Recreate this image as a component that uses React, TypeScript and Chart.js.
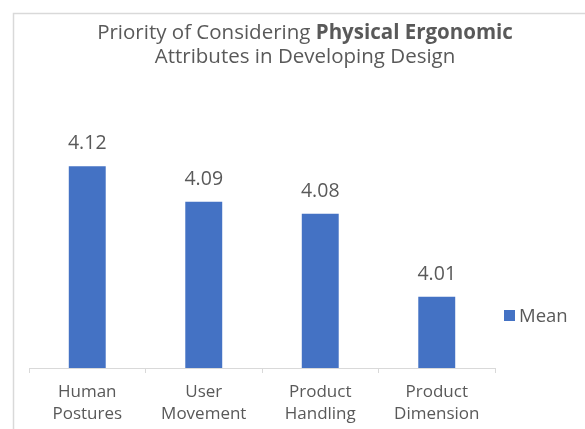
import React, { useEffect, useRef } from 'react';
import { Chart, registerables } from 'chart.js';
Chart.register(...registerables);

const categories = [
  ['Human', 'Postures'],
  ['User', 'Movement'],
  ['Product', 'Handling'],
  ['Product', 'Dimension'],
];
const meanValues = [4.12, 4.09, 4.08, 4.01];
const seriesName = 'Mean';
const titleLine1Normal = 'Priority of Considering ';
const titleLine1Bold = 'Physical Ergonomic';
const titleLine2 = 'Attributes in Developing Design';
const yMin = 3.95;
const yMax = 4.15;

const FONT = '"Open Sans", sans-serif';
const TEXT = '#595959';
const BAR = '#4472C4';
const LINE = '#d9d9d9';

const decor = {
  id: 'decor',
  beforeDraw(chart: any) {
    const ctx = chart.ctx;
    ctx.save();
    ctx.fillStyle = '#ffffff';
    ctx.fillRect(0, 0, chart.width, chart.height);
    ctx.strokeStyle = LINE;
    ctx.lineWidth = 1.5;
    ctx.beginPath();
    ctx.moveTo(13.5, chart.height + 2);
    ctx.lineTo(13.5, 13.5);
    ctx.lineTo(chart.width + 2, 13.5);
    ctx.stroke();

    const cx = 305;
    const tf = 20.5;
    ctx.fillStyle = TEXT;
    ctx.textBaseline = 'alphabetic';
    ctx.font = `${tf}px ${FONT}`;
    const w1 = ctx.measureText(titleLine1Normal).width;
    ctx.font = `bold ${tf}px ${FONT}`;
    const w2 = ctx.measureText(titleLine1Bold).width;
    const x0 = cx - (w1 + w2) / 2;
    ctx.textAlign = 'left';
    ctx.font = `${tf}px ${FONT}`;
    ctx.fillText(titleLine1Normal, x0, 39);
    ctx.font = `bold ${tf}px ${FONT}`;
    ctx.fillText(titleLine1Bold, x0 + w1, 39);
    ctx.font = `${tf}px ${FONT}`;
    ctx.textAlign = 'center';
    ctx.fillText(titleLine2, cx, 63);

    ctx.fillStyle = BAR;
    ctx.fillRect(504, 310, 11, 11);
    ctx.fillStyle = TEXT;
    ctx.textAlign = 'left';
    ctx.textBaseline = 'middle';
    ctx.font = `18.5px ${FONT}`;
    ctx.fillText(seriesName, 519, 316.5);
    ctx.restore();
  },
  afterDatasetsDraw(chart: any) {
    const ctx = chart.ctx;
    const meta = chart.getDatasetMeta(0);
    const data = chart.data.datasets[0].data;
    ctx.save();
    ctx.fillStyle = TEXT;
    ctx.font = `19.5px ${FONT}`;
    ctx.textAlign = 'center';
    ctx.textBaseline = 'alphabetic';
    meta.data.forEach((bar: any, i: number) => {
      ctx.fillText(Number(data[i]).toFixed(2), bar.x, bar.y - 17);
    });
    ctx.restore();
  },
};

export default function App() {
  const ref = useRef<HTMLCanvasElement>(null);
  useEffect(() => {
    if (!ref.current) return;
    const chart = new Chart(ref.current, {
      type: 'bar',
      data: {
        labels: categories as any,
        datasets: [
          {
            label: seriesName,
            data: meanValues,
            backgroundColor: BAR,
            borderWidth: 0,
            categoryPercentage: 1,
            barPercentage: 0.317,
          },
        ],
      },
      options: {
        animation: false,
        responsive: false,
        devicePixelRatio: 1,
        layout: { padding: { left: 29, right: 90, top: 130.5, bottom: 0 } },
        plugins: {
          legend: { display: false },
          title: { display: false },
          tooltip: { enabled: false },
        },
        scales: {
          x: {
            afterFit: (scale: any) => {
              scale.height = 61;
            },
            grid: {
              drawOnChartArea: false,
              drawTicks: true,
              tickLength: 5,
              color: LINE,
              offset: true,
            },
            border: { display: true, color: LINE, width: 1 },
            ticks: {
              color: TEXT,
              font: { family: FONT, size: 17, lineHeight: 1.3 },
              padding: 8,
              maxRotation: 0,
              autoSkip: false,
            },
          },
          y: {
            display: false,
            min: yMin,
            max: yMax,
          },
        },
      },
      plugins: [decor],
    });
    return () => chart.destroy();
  }, []);
  return (
    <div style={{ position: 'fixed', left: 0, top: 0, width: 585, height: 429, background: '#fff' }}>
      <canvas ref={ref} width={585} height={429} />
    </div>
  );
}
